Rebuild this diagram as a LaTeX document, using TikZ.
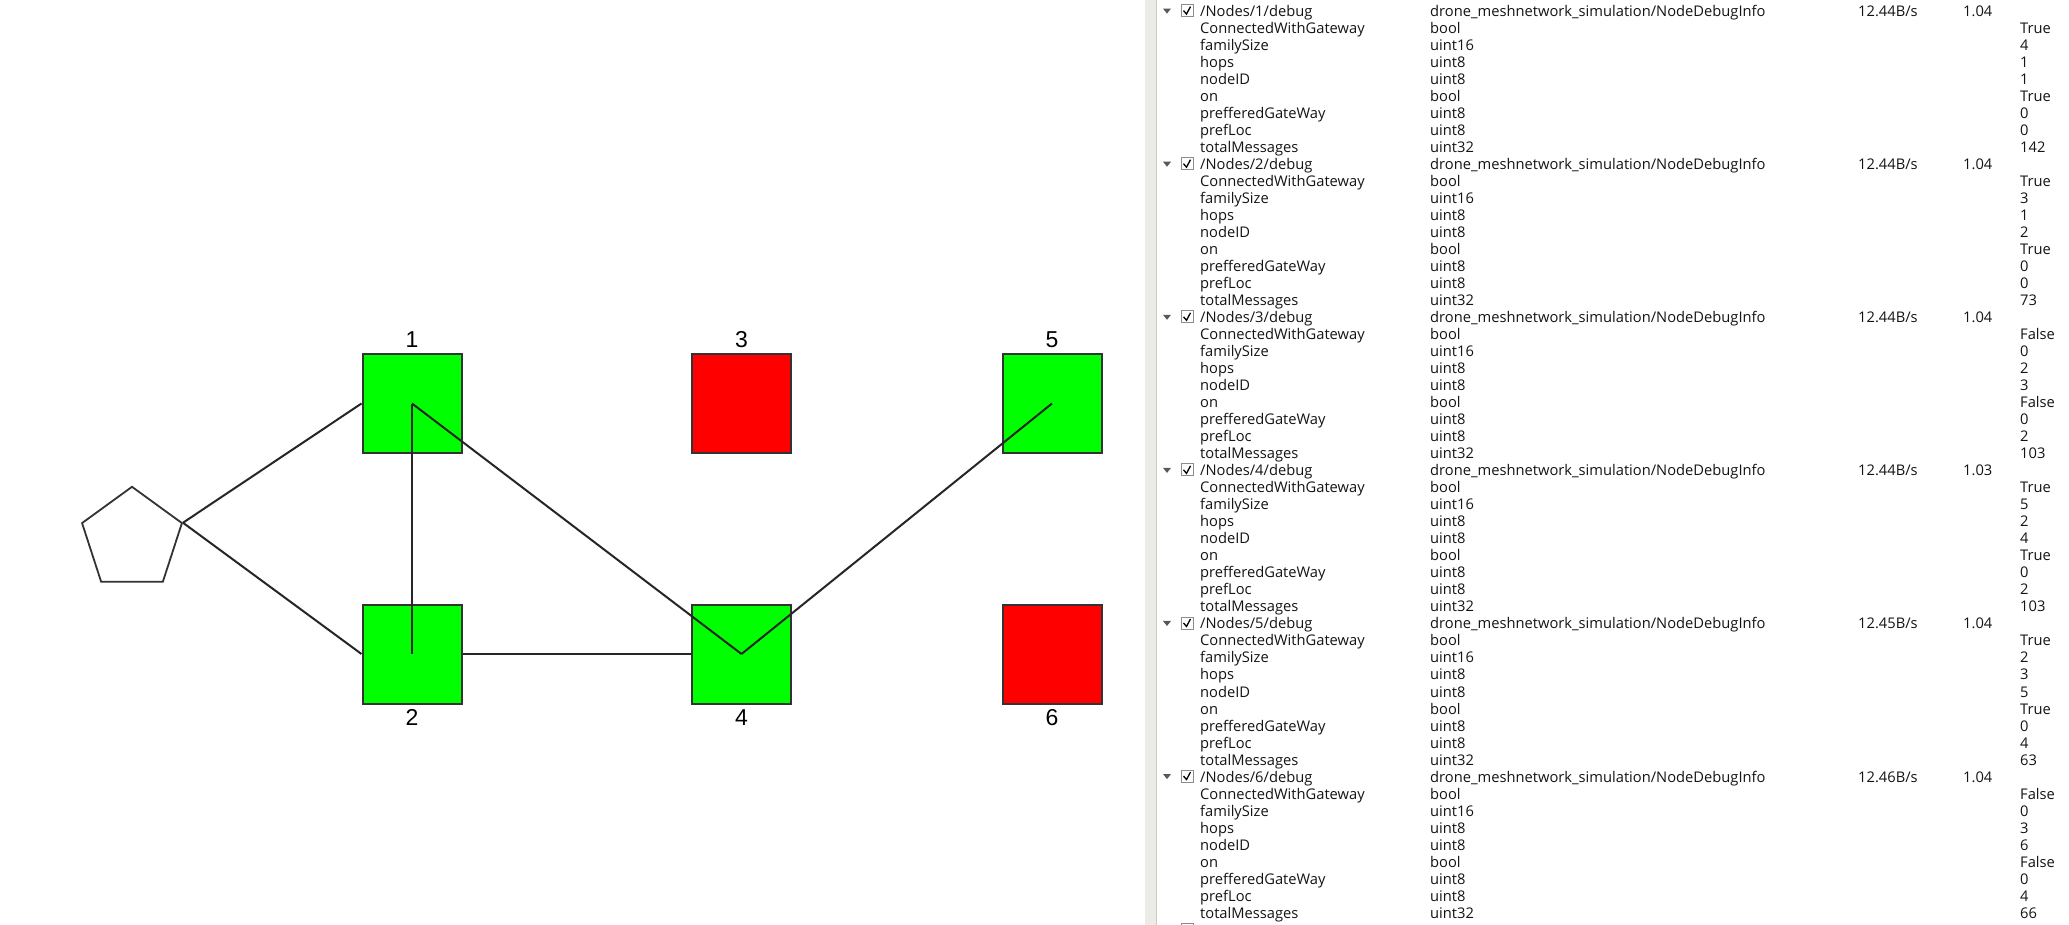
\documentclass[tikz,border=0pt]{standalone}
\usepackage{fontspec}
\setmainfont{Liberation Sans}
\newfontfamily\panelfont{Open Sans}
\usetikzlibrary{shapes.geometric}
\definecolor{alivegreen}{RGB}{0,255,0}
\definecolor{deadred}{RGB}{255,0,0}
\definecolor{edgegray}{RGB}{51,51,51}
\definecolor{bandgray}{RGB}{237,235,232}
\definecolor{bandline}{RGB}{205,201,197}
\definecolor{paneltext}{RGB}{20,20,20}

\begin{document}
\begin{tikzpicture}[x=1pt,y=-1pt,
  drone/.style={draw=edgegray,line width=2pt,minimum size=99pt,inner sep=0pt},
  alive/.style={drone,fill=alivegreen},
  dead/.style={drone,fill=deadred},
  lbl/.style={inner sep=0pt,label distance=5pt,font=\fontsize{23}{23}\selectfont},
  gateway/.style={draw=edgegray,line width=1.8pt,regular polygon,regular polygon sides=5,minimum size=105pt,inner sep=0pt},
  meshlink/.style={draw=black!85,line width=2pt},
  cell/.style={anchor=base west,inner sep=0pt,font=\panelfont\fontsize{14.7}{17}\selectfont,text=paneltext},
  tick/.style={draw=black!45,fill=white,line width=0.8pt}]

\clip (0,0) rectangle (2069,925);
\fill[white] (0,0) rectangle (2069,925);

\node[gateway] (gw) at (132,539.3) {};
\node[alive,label={[lbl]above:1}] (n1) at (412,403.5) {};
\node[alive,label={[lbl]below:2}] (n2) at (412,654) {};
\node[dead,label={[lbl]above:3}] (n3) at (741.5,403.5) {};
\node[alive,label={[lbl]below:4}] (n4) at (741.5,654) {};
\node[alive,label={[lbl]above:5}] (n5) at (1052,403.5) {};
\node[dead,label={[lbl]below:6}] (n6) at (1052,654) {};

\draw[meshlink] (gw.corner 5) -- (n1.west);
\draw[meshlink] (gw.corner 5) -- (n2.west);
\draw[meshlink] (n2.east) -- (n4.west);
\draw[meshlink] (n1.center) -- (n2.center);
\draw[meshlink] (n1.center) -- (n4.center);
\draw[meshlink] (n4.center) -- (n5.center);

\fill[bandgray] (1145,0) rectangle (1156,925);
\draw[bandline,line width=1pt] (1156,0) -- (1156,925);

\foreach \k/\rate/\freq/\vals [count=\g from 0] in {
  1/{12.44B/s}/1.04/{True,4,1,1,True,0,0,142},
  2/{12.44B/s}/1.04/{True,3,1,2,True,0,0,73},
  3/{12.44B/s}/1.04/{False,0,2,3,False,0,2,103},
  4/{12.44B/s}/1.03/{True,5,2,4,True,0,2,103},
  5/{12.45B/s}/1.04/{True,2,3,5,True,0,4,63},
  6/{12.46B/s}/1.04/{False,0,3,6,False,0,4,66}}{
  \pgfmathsetmacro\hb{16.6+153.09*\g}
  \fill[black!65] (1163,\hb-8) -- (1171,\hb-8) -- (1167,\hb-3) -- cycle;
  \draw[tick] (1181,\hb-12) rectangle (1193,\hb);
  \draw[black,line width=1.3pt] (1183.5,\hb-6) -- (1186.5,\hb-2.5) -- (1190.5,\hb-10);
  \node[cell] (topic\k) at (1200,\hb) {/Nodes/\k/debug};
  \node[cell] (type\k) at (1430,\hb) {drone\_meshnetwork\_simulation/NodeDebugInfo};
  \node[cell] (bw\k) at (1858,\hb) {\rate};
  \node[cell] (hz\k) at (1963,\hb) {\freq};
  \foreach \f/\t [count=\j] in {ConnectedWithGateway/bool,familySize/uint16,hops/uint8,nodeID/uint8,on/bool,prefferedGateWay/uint8,prefLoc/uint8,totalMessages/uint32}{
    \node[cell] (fld\k-\j) at (1200,\hb+17.01*\j) {\f};
    \node[cell] (ftype\k-\j) at (1430,\hb+17.01*\j) {\t};
  }
  \foreach \v [count=\j] in \vals {
    \node[cell] (val\k-\j) at (2020,\hb+17.01*\j) {\v};
  }
}

\draw[tick] (1181,923) rectangle (1193,935);
\end{tikzpicture}
\end{document}
